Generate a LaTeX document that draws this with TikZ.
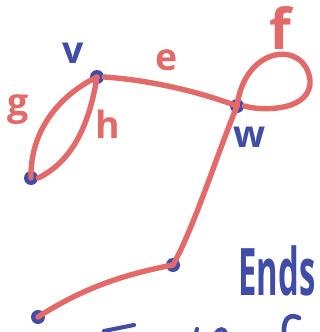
\documentclass[tikz,border=0pt]{standalone}
\usepackage{fontspec}
\setmainfont{Open Sans}
\definecolor{penred}{HTML}{E46A6A}
\definecolor{penblue}{HTML}{3F4DA8}
\begin{document}
\begin{tikzpicture}[x=0.03cm,y=-0.03cm]
\tikzset{edge/.style = {draw=penred, line width=4.6pt, line cap=round}}
\tikzset{vert/.style = {circle, fill=penblue, inner sep=0pt, minimum width=0.42cm, minimum height=0.34cm}}
\tikzset{lab/.style = {font=\bfseries\fontsize{32}{32}\selectfont, inner sep=0pt}}
\useasboundingbox (0,0) rectangle (320,332);
\clip (0,0) rectangle (320,332);
% vertices
\node [vert] at (97,77)(V) {};
\node [vert] at (237,106)(W) {};
\node [vert] at (31,178)(L) {};
\node [vert] at (173,265)(M) {};
\node [vert] at (38,317)(B) {};
% edges
\draw [edge] (V.east) .. controls (150,80) and (200,92) .. (W.center);
\draw [edge] (W.center) .. controls (245,45) and (305,40) .. (310,80)
                        .. controls (312,110) and (265,112) .. (W.east);
\draw [edge] (V.center) .. controls (60,95) and (30,130) .. (L.center);
\draw [edge] (V.center) .. controls (90,120) and (75,160) .. (L.east);
\draw [edge] (W.center) .. controls (215,160) and (195,225) .. (M.center);
\draw [edge] (M.center) .. controls (120,275) and (80,290) .. (B.center);
% labels
\node [lab, text=penblue] at (73,53)(v) {v};
\node [lab, text=penblue] at (250,137)(w) {w};
\node [lab, text=penred] at (167,60)(e) {e};
\node [lab, text=penred, font=\bfseries\fontsize{48}{48}\selectfont] at (280,28)(f) {f};
\node [lab, text=penred] at (18,110)(g) {g};
\node [lab, text=penred] at (108,124)(h) {h};
\node [lab, text=penblue, xscale=0.5, font=\bfseries\fontsize{56}{56}\selectfont] at (277,271)(ends) {Ends};
% cut-off text at the bottom edge
\draw [penblue, line width=3.5pt, line cap=round] (104,331) -- (134,325);
\draw [penblue, line width=3.5pt, line cap=round] (196,333) -- (197,329);
\draw [penblue, line width=3.5pt, line cap=round] (216,333) .. controls (219,328) and (224,328) .. (226,333);
\draw [penblue, line width=4pt, line cap=round] (299,318) .. controls (292,314) and (283,316) .. (284,333);
\end{tikzpicture}
\end{document}
